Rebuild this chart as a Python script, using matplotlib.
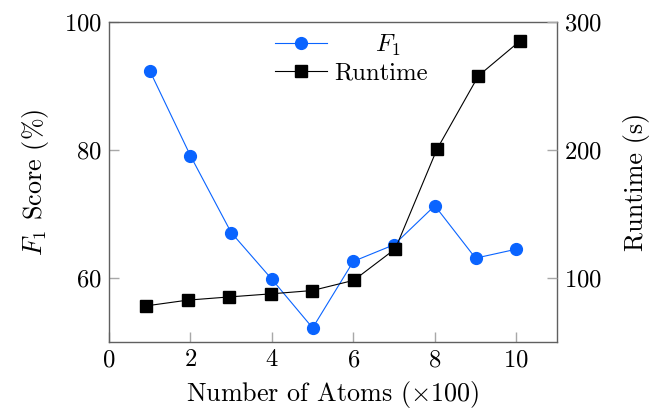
import matplotlib
matplotlib.use('Agg')
import matplotlib.pyplot as plt

# values
atoms = [1, 2, 3, 4, 5, 6, 7, 8, 9, 10]
f1_score = [92.4, 79.1, 67.1, 59.8, 52.2, 62.6, 65.2, 71.3, 63.1, 64.5]
runtime = [78.2, 82.7, 85.2, 87.6, 90.2, 98.2, 122.8, 200.5, 258.0, 285.2]

x_ticks = [0, 2, 4, 6, 8, 10]
f1_ticks = [60, 80, 100]
rt_ticks = [100, 200, 300]

plt.rcParams['font.family'] = ['cmr10', 'DejaVu Serif']
plt.rcParams['mathtext.fontset'] = 'cm'
plt.rcParams['axes.formatter.use_mathtext'] = True
plt.rcParams['font.size'] = 17.8

blue = '#0a64ff'
spine_col = '#606060'
tick_col = '#a8a8a8'

fig = plt.figure(figsize=(6.51, 4.16), dpi=100)
rect = [109/651, 1 - 342/416, 448/651, 320/416]
ax1 = fig.add_axes(rect)
ax2 = fig.add_axes(rect, frameon=False)

l1, = ax1.plot(atoms, f1_score, color=blue, lw=0.8, marker='o', ms=8.5,
               label='     $F_1$')
l2, = ax2.plot(atoms, runtime, color='black', lw=0.8, marker='s', ms=8.5,
               label='Runtime')

ax1.set_xlim(0, 11)
ax1.set_ylim(50, 100)
ax1.set_xticks(x_ticks)
ax1.set_yticks(f1_ticks)
ax2.set_xlim(0.11, 10.89)
ax2.set_ylim(50, 300)
ax2.set_xticks([])
ax2.set_yticks(rt_ticks)
ax2.yaxis.tick_right()
ax2.yaxis.set_label_position('right')

for s in ax1.spines.values():
    s.set_color(spine_col)
    s.set_linewidth(1.0)
ax1.tick_params(direction='in', length=7.5, width=1.0, color=tick_col,
                pad=5, top=False, right=False)
ax2.tick_params(axis='y', direction='in', length=7.5, width=1.0,
                color=tick_col, pad=5)

ax1.set_xlabel(r'Number of Atoms ($\times$100)', fontsize=18.8, labelpad=6)
ax1.set_ylabel(r'$F_1$ Score (%)', fontsize=18.8, labelpad=9)
ax2.set_ylabel('Runtime (s)', fontsize=18.8, labelpad=15)

ax2.legend(handles=[l1, l2], loc='upper center', bbox_to_anchor=(0.541, 1.0),
           frameon=False, handlelength=2.1, handletextpad=0.3,
           labelspacing=0.15, borderaxespad=0.05)

fig.savefig('out.png', dpi=100)
